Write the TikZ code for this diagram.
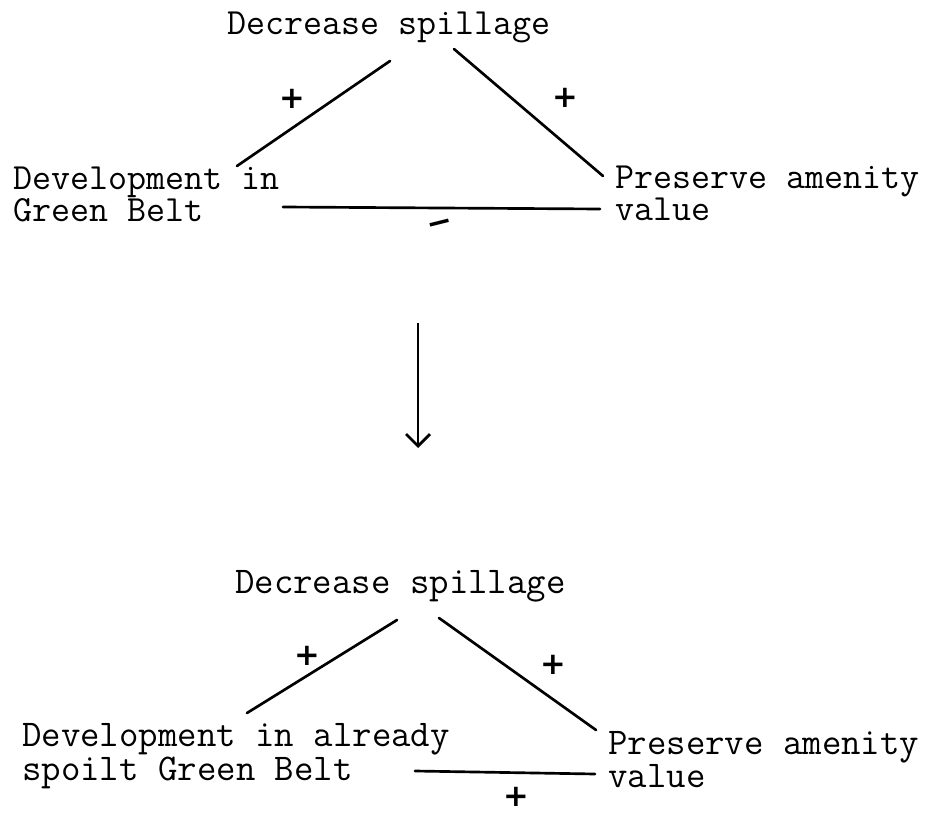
\documentclass[tikz,border=0pt]{standalone}
\usepackage{fontspec}
\setmonofont{Latin Modern Mono}
\newfontfamily\signfont{DejaVu Sans}
\usetikzlibrary{arrows.meta}
\begin{document}
\begin{tikzpicture}[x=0.75pt,y=-0.75pt,
  % multi-line labels sit on the baseline of their last line
  label text/.style={anchor=base west,inner sep=0pt,align=left,
    font=\ttfamily\fontsize{27.7}{22.5}\selectfont},
  label text big/.style={label text,
    font=\ttfamily\fontsize{28.3}{22.5}\selectfont},
  sign/.style={inner sep=0pt,font=\signfont\bfseries\fontsize{23}{23}\selectfont},
  link/.style={line width=2pt,line cap=round},
  flow/.style={line width=2pt,-{Straight Barb[length=9pt,width=18pt,line width=2pt]}}]
\useasboundingbox (0,0) rectangle (936,813);

% ---- first triangle: development in the Green Belt ----
\node[label text] (dec1) at (227,35) {Decrease spillage};
\node[label text] (dev1) at (13,222) {Development in\\Green Belt};
\node[label text] (pre1) at (615,221) {Preserve amenity\\value};

\coordinate (a1) at (237,166);
\coordinate (a2) at (390,61);
\coordinate (b1) at (454,49);
\coordinate (b2) at (603,176);
\coordinate (c1) at (283,207);
\coordinate (c2) at (600,209);
\draw[link] (a1) -- (a2);
\draw[link] (b1) -- (b2);
\draw[link] (c1) -- (c2);
\node[sign] (p1) at (292,99) {+};
\node[sign] (p2) at (565,98) {+};
\node[sign,rotate=14] (m1) at (441,227) {−};

% ---- transition ----
\coordinate (t1) at (418,323);
\coordinate (t2) at (418,448);
\draw[flow] (t1) -- (t2);

% ---- second triangle: already spoilt Green Belt ----
\node[label text big] (dec2) at (235,593) {Decrease spillage};
\node[label text big] (dev2) at (22,780) {Development in already\\spoilt Green Belt};
\node[label text big] (pre2) at (608,787) {Preserve amenity\\value};

\coordinate (d1) at (247,713);
\coordinate (d2) at (397,620);
\coordinate (e1) at (439,618);
\coordinate (e2) at (596,730);
\coordinate (f1) at (415,771);
\coordinate (f2) at (595,774);
\draw[link] (d1) -- (d2);
\draw[link] (e1) -- (e2);
\draw[link] (f1) -- (f2);
\node[sign] (p3) at (307,656) {+};
\node[sign] (p4) at (553,665) {+};
\node[sign] (p5) at (516,797) {+};
\end{tikzpicture}
\end{document}
